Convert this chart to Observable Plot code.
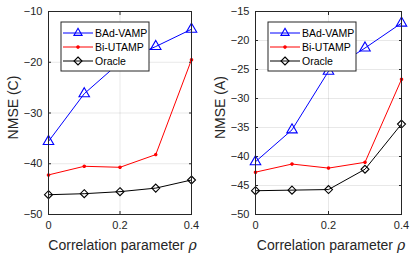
<!DOCTYPE html>
<html>
<head>
<meta charset="utf-8">
<script src="https://cdn.jsdelivr.net/npm/d3@7"></script>
<script src="https://cdn.jsdelivr.net/npm/@observablehq/plot@0.6"></script>
<style>
  html, body { margin: 0; padding: 0; background: #fff; }
  #wrap { position: relative; width: 415px; height: 258px; font-family: "Liberation Sans", Arial, sans-serif; }
  #wrap svg { position: absolute; top: 0; overflow: visible; }
</style>
</head>
<body>
<div id="wrap"></div>
<script>
const rho = [0, 0.1, 0.2, 0.3, 0.4];
const xTicks = [0, 0.2, 0.4];
const seriesNames = ["BAd-VAMP", "Bi-UTAMP", "Oracle"];

// Panel C
const badVampC = [-35.6, -26.2, -20.0, -16.9, -13.5];
const biUtampC = [-42.2, -40.5, -40.7, -38.2, -19.5];
const oracleC  = [-46.1, -45.9, -45.5, -44.8, -43.2];
const yTicksC  = [-50, -40, -30, -20, -10];

// Panel A
const badVampA = [-40.9, -35.4, -25.3, -21.3, -17.0];
const biUtampA = [-42.7, -41.3, -42.0, -41.0, -26.7];
const oracleA  = [-45.9, -45.8, -45.7, -42.2, -34.4];
const yTicksA  = [-50, -45, -40, -35, -30, -25, -20, -15];

const styles = {
  "BAd-VAMP": {color: "#0000ff", symbol: "triangle", r: 3.9, fill: "none"},
  "Bi-UTAMP": {color: "#ff0000", symbol: "circle", r: 1.2, fill: "#ff0000"},
  "Oracle":   {color: "#000000", symbol: "diamond2", r: 3.6, fill: "none"}
};

function rows(vals) {
  const out = [];
  seriesNames.forEach((s, i) => rho.forEach((x, j) => out.push({series: s, x, y: vals[i][j]})));
  return out;
}

function panel(opts) {
  const {vals, yTicks, yDomain, ylabel, left, width, mL, mR} = opts;
  const data = rows(vals);
  const fmt = d => d === 0 ? "0" : String(d);
  const marks = [
    Plot.gridX(xTicks, {stroke: "#000", strokeOpacity: 0.09}),
    Plot.gridY(yTicks, {stroke: "#000", strokeOpacity: 0.09}),
    Plot.axisX(xTicks, {tickSize: -3, tickPadding: 10, tickFormat: fmt, label: null, fontSize: 11, stroke: "#262626", fill: "#262626"}),
    Plot.axisX(xTicks, {anchor: "top", tickSize: -3, tickFormat: () => "", label: null, stroke: "#262626"}),
    Plot.axisY(yTicks, {tickSize: -3, tickPadding: 9, label: null, fontSize: 11, stroke: "#262626", fill: "#262626"}),
    Plot.axisY(yTicks, {anchor: "right", tickSize: -3, tickFormat: () => "", label: null, stroke: "#262626"})
  ];
  seriesNames.forEach(s => {
    const st = styles[s];
    const d = data.filter(r => r.series === s);
    marks.push(Plot.line(d, {x: "x", y: "y", stroke: st.color, strokeWidth: 1}));
    marks.push(Plot.dot(d, {x: "x", y: "y", symbol: () => st.symbol, r: st.r, stroke: st.color, fill: st.fill, strokeWidth: 1.1}));
  });
  marks.push(Plot.frame({stroke: "#262626", strokeWidth: 1}));

  const chart = Plot.plot({
    width, height: 258,
    marginLeft: mL, marginRight: mR, marginTop: 11, marginBottom: 44,
    x: {domain: [0, 0.4], label: null},
    y: {domain: yDomain, label: null},
    symbol: {type: "identity"},
    style: {fontFamily: "Liberation Sans, Arial, sans-serif", fontSize: "11px", color: "#262626", background: "transparent"},
    marks
  });
  chart.style.left = left + "px";

  const svg = d3.select(chart);
  const pl = mL, pr = width - mR, pt = 11, pb = 258 - 44;
  // x label
  const xl = svg.append("text")
    .attr("x", (pl + pr) / 2 + 3).attr("y", 250)
    .attr("text-anchor", "middle")
    .attr("font-size", 14).attr("fill", "#262626")
    .attr("font-family", "Liberation Sans, Arial, sans-serif");
  xl.append("tspan").text("Correlation parameter ");
  xl.append("tspan").attr("font-style", "italic").attr("font-family", "DejaVu Serif, serif").text("ρ");
  // y label
  svg.append("text")
    .attr("transform", `translate(18,${(pt + pb) / 2 - 5}) rotate(-90)`)
    .attr("text-anchor", "middle")
    .attr("font-size", 14).attr("fill", "#262626")
    .attr("font-family", "Liberation Sans, Arial, sans-serif")
    .text(ylabel);

  // legend
  const lx = pl + 13, ly = 22, lw = 88, lh = 49;
  const g = svg.append("g");
  g.append("rect").attr("x", lx).attr("y", ly).attr("width", lw).attr("height", lh)
    .attr("fill", "#fff").attr("stroke", "#262626").attr("stroke-width", 1);
  seriesNames.forEach((s, i) => {
    const st = styles[s];
    const yy = ly + 11 + i * 14;
    g.append("line").attr("x1", lx + 2).attr("x2", lx + 32).attr("y1", yy).attr("y2", yy)
      .attr("stroke", st.color).attr("stroke-width", 1);
    const sym = {triangle: d3.symbolTriangle2, circle: d3.symbolCircle, diamond2: d3.symbolDiamond2}[st.symbol];
    g.append("path").attr("d", d3.symbol(sym, st.r * st.r * Math.PI)())
      .attr("transform", `translate(${lx + 17},${yy})`)
      .attr("stroke", st.color).attr("fill", st.fill).attr("stroke-width", 1.1);
    g.append("text").attr("x", lx + 34).attr("y", yy).attr("dy", "0.35em")
      .attr("text-anchor", "start")
      .attr("font-size", 10.5).attr("fill", "#000")
      .attr("font-family", "Liberation Sans, Arial, sans-serif")
      .text(s);
  });
  return chart;
}

const wrap = document.getElementById("wrap");
wrap.appendChild(panel({vals: [badVampC, biUtampC, oracleC], yTicks: yTicksC, yDomain: [-50, -10], ylabel: "NMSE (C)", left: 0, width: 207, mL: 48, mR: 16}));
wrap.appendChild(panel({vals: [badVampA, biUtampA, oracleA], yTicks: yTicksA, yDomain: [-50, -15], ylabel: "NMSE (A)", left: 207, width: 208, mL: 48, mR: 14}));
</script>
</body>
</html>
